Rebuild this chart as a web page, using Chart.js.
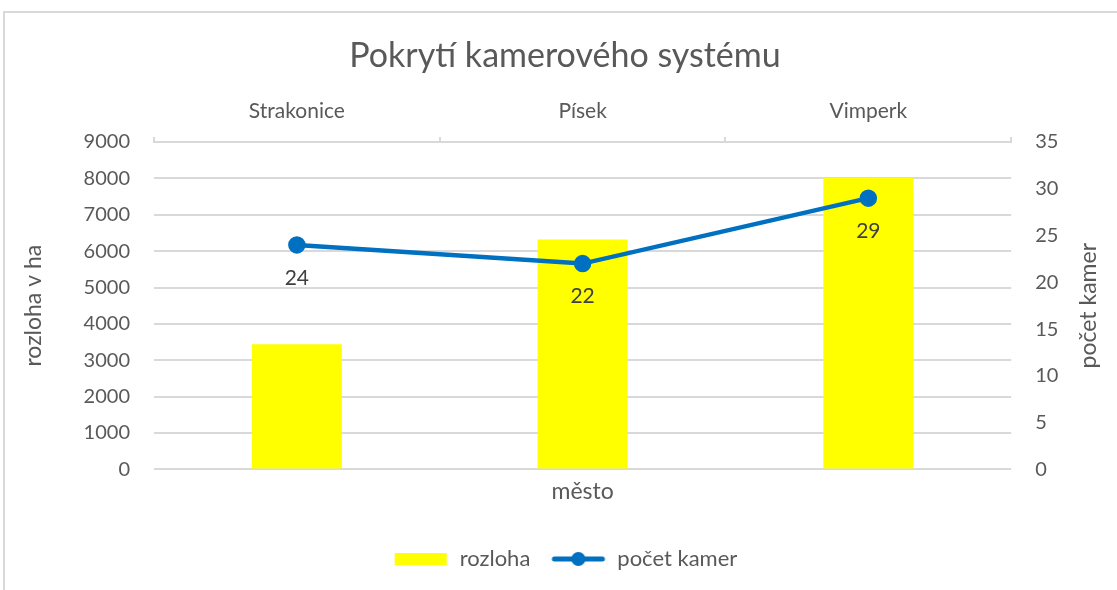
<!DOCTYPE html>
<html>
<head>
<meta charset="utf-8">
<script src="https://cdn.jsdelivr.net/npm/chart.js@4.4.0/dist/chart.umd.min.js"></script>
<style>
  body { margin: 0; background: #fff; }
  #wrap { width: 1117px; height: 590px; }
</style>
</head>
<body>
<div id="wrap"><canvas id="chart" width="1117" height="590"></canvas></div>
<script>
const cities = ["Strakonice", "Písek", "Vimperk"];
const area = [3440, 6320, 8020];
const cameras = [24, 22, 29];

const textColor = "#595959";
const gridColor = "#d9d9d9";
const font = "Lato";

// legend swatches
function swatch(draw) {
  const c = document.createElement("canvas");
  c.width = 56; c.height = 16;
  draw(c.getContext("2d"));
  return c;
}
const barSwatch = swatch((ctx) => {
  ctx.fillStyle = "#ffff00";
  ctx.fillRect(2, 2, 52, 12);
});
const lineSwatch = swatch((ctx) => {
  ctx.strokeStyle = "#0070c0";
  ctx.lineWidth = 5;
  ctx.lineCap = "round";
  ctx.beginPath(); ctx.moveTo(4, 8); ctx.lineTo(52, 8); ctx.stroke();
  ctx.fillStyle = "#0070c0";
  ctx.beginPath(); ctx.arc(28, 8, 7, 0, Math.PI * 2); ctx.fill();
});

const extras = {
  id: "extras",
  beforeDraw(chart) {
    const ctx = chart.ctx;
    ctx.save();
    ctx.fillStyle = "#fff";
    ctx.fillRect(0, 0, chart.width, chart.height);
    ctx.strokeStyle = gridColor;
    ctx.lineWidth = 2;
    ctx.beginPath();
    ctx.moveTo(4, chart.height); ctx.lineTo(4, 12); ctx.lineTo(chart.width, 12);
    ctx.stroke();
    ctx.restore();
  },
  afterDatasetsDraw(chart) {
    const ctx = chart.ctx;
    const meta = chart.getDatasetMeta(1);
    ctx.save();
    ctx.fillStyle = "#404040";
    ctx.font = "21px " + font;
    ctx.textAlign = "center";
    ctx.textBaseline = "middle";
    meta.data.forEach((pt, i) => {
      ctx.fillText(String(cameras[i]), pt.x, pt.y + 33);
    });
    ctx.restore();
  },
  afterDraw(chart) {
    // right axis title reads bottom-to-top like the left one
    const s = chart.scales.y1;
    const ctx = chart.ctx;
    ctx.save();
    ctx.translate(s.right - 21, (chart.chartArea.top + chart.chartArea.bottom) / 2);
    ctx.rotate(-Math.PI / 2);
    ctx.fillStyle = textColor;
    ctx.font = "23px " + font;
    ctx.textAlign = "center";
    ctx.textBaseline = "middle";
    ctx.fillText("počet kamer", 0, 0);
    ctx.restore();
  }
};

new Chart(document.getElementById("chart"), {
  data: {
    labels: cities,
    datasets: [
      {
        type: "bar",
        label: "rozloha",
        data: area,
        backgroundColor: "#ffff00",
        xAxisID: "x",
        yAxisID: "y",
        barPercentage: 0.315,
        categoryPercentage: 1,
        order: 2,
      },
      {
        type: "line",
        label: "počet kamer",
        data: cameras,
        borderColor: "#0070c0",
        backgroundColor: "#0070c0",
        borderWidth: 4.5,
        pointRadius: 6.5,
        pointHoverRadius: 6.5,
        xAxisID: "x",
        yAxisID: "y1",
        order: 1,
      },
    ],
  },
  options: {
    responsive: false,
    animation: false,
    layout: { padding: { top: 36, left: 20, right: 7, bottom: 10 } },
    plugins: {
      title: {
        display: true,
        text: "Pokrytí kamerového systému",
        color: textColor,
        font: { family: font, size: 34, weight: "normal" },
        padding: { top: 0, bottom: 9 },
      },
      legend: {
        position: "bottom",
        labels: {
          usePointStyle: true,
          pointStyleWidth: 56,
          color: textColor,
          font: { family: font, size: 22 },
          padding: 20,
          generateLabels: () => [
            { text: "rozloha", pointStyle: barSwatch, fontColor: textColor, datasetIndex: 0 },
            { text: "počet kamer", pointStyle: lineSwatch, fontColor: textColor, datasetIndex: 1 },
          ],
        },
      },
      tooltip: { enabled: false },
    },
    scales: {
      x: {
        position: "top",
        grid: { drawOnChartArea: false, color: gridColor, tickLength: 5, lineWidth: 2 },
        border: { color: gridColor, width: 2 },
        ticks: { color: textColor, font: { family: font, size: 21 }, padding: 13 },
      },
      x2: {
        type: "category",
        position: "bottom",
        labels: cities,
        grid: { display: false },
        border: { display: false },
        ticks: { display: false },
        title: {
          display: true,
          text: "město",
          color: textColor,
          font: { family: font, size: 23 },
          padding: { top: 0, bottom: 23 },
        },
      },
      y: {
        position: "left",
        min: 0,
        max: 9000,
        ticks: {
          stepSize: 1000,
          color: textColor,
          font: { family: font, size: 20 },
          padding: 24,
          callback: (v) => String(v),
        },
        grid: { color: gridColor, lineWidth: 2, drawTicks: false },
        border: { display: false },
        title: {
          display: true,
          text: "rozloha v ha",
          color: textColor,
          font: { family: font, size: 23 },
          padding: { top: 0, bottom: 12 },
        },
      },
      y1: {
        position: "right",
        min: 0,
        max: 35,
        ticks: { stepSize: 5, color: textColor, font: { family: font, size: 20 }, padding: 24 },
        grid: { drawOnChartArea: false, drawTicks: false },
        border: { display: false },
        title: {
          display: true,
          text: "počet kamer",
          color: "rgba(0,0,0,0)",
          font: { family: font, size: 23 },
          padding: { top: 0, bottom: 0 },
        },
      },
    },
  },
  plugins: [extras],
});
</script>
</body>
</html>
